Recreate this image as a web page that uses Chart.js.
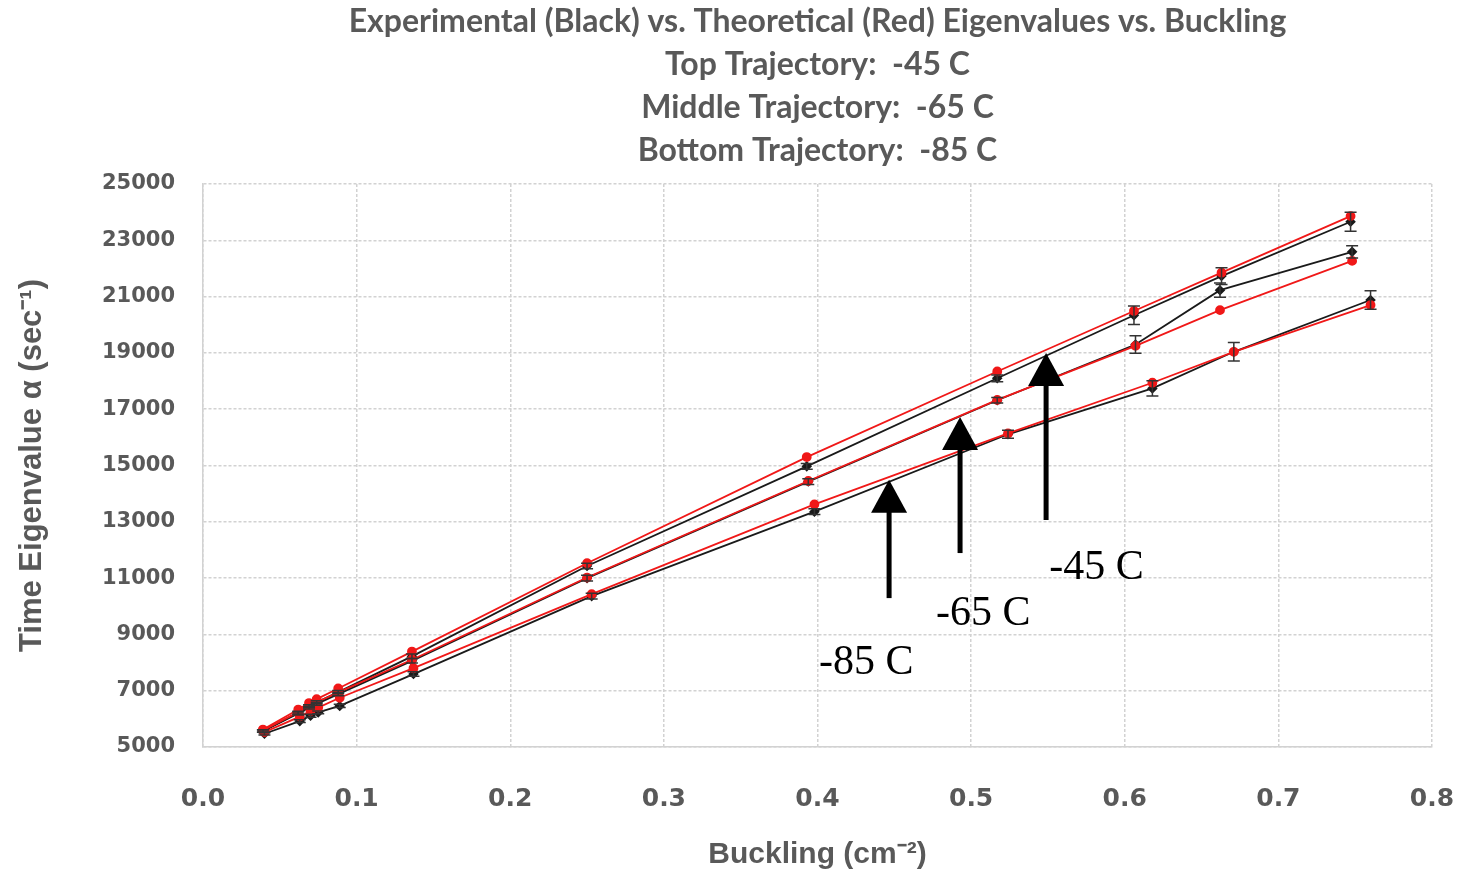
<!DOCTYPE html>
<html>
<head>
<meta charset="utf-8">
<script src="https://cdn.jsdelivr.net/npm/chart.js@4.4.1/dist/chart.umd.min.js"></script>
<style>
  html, body { margin: 0; padding: 0; background: #fff; }
  #wrap { width: 1459px; height: 873px; }
</style>
</head>
<body>
<div id="wrap"><canvas id="myChart"></canvas></div>
<script>
// buckling (cm^-2) for each temperature
var bucklingM45 = [0.039, 0.062, 0.069, 0.074, 0.088, 0.136, 0.250, 0.393, 0.517, 0.606, 0.663, 0.747];
var bucklingM65 = [0.039, 0.062, 0.069, 0.074, 0.088, 0.136, 0.250, 0.394, 0.517, 0.607, 0.662, 0.748];
var bucklingM85 = [0.040, 0.063, 0.070, 0.075, 0.089, 0.137, 0.253, 0.398, 0.524, 0.618, 0.671, 0.760];

// theoretical (red) eigenvalues
var theoryM45 = [5620, 6330, 6560, 6700, 7080, 8390, 11530, 15300, 18340, 20490, 21850, 23860];
var theoryM65 = [5590, 6240, 6460, 6590, 6940, 8100, 11020, 14450, 17330, 19250, 20520, 22270];
var theoryM85 = [5530, 6080, 6280, 6400, 6750, 7800, 10430, 13620, 16140, 17940, 19040, 20700];

// experimental (black) eigenvalues and their error bars
var expM45 = [5570, 6220, 6450, 6590, 6950, 8220, 11430, 14970, 18100, 20340, 21730, 23660];
var expM65 = [5560, 6190, 6400, 6530, 6880, 8060, 11000, 14430, 17320, 19300, 21230, 22590];
var expM85 = [5470, 5920, 6110, 6230, 6460, 7590, 10360, 13360, 16110, 17740, 19040, 20880];
var errM45 = [40, 50, 50, 50, 60, 80, 100, 100, 120, 330, 300, 340];
var errM65 = [40, 50, 50, 50, 60, 80, 100, 100, 100, 310, 250, 220];
var errM85 = [40, 50, 50, 50, 60, 80, 100, 100, 140, 270, 330, 330];

// tick values
var xTicks = [0, 0.1, 0.2, 0.3, 0.4, 0.5, 0.6, 0.7, 0.8];
var yTicks = [5000, 7000, 9000, 11000, 13000, 15000, 17000, 19000, 21000, 23000, 25000];

// arrow annotations (-85, -65, -45)
var arrowLabels = ['-85 C', '-65 C', '-45 C'];
var arrowX = [0.4466, 0.4928, 0.5488];
var arrowTail = [10290, 11890, 13060];
var arrowTip = [14490, 16720, 19000];
var labelX = [0.401, 0.4771, 0.5508];
var labelY = [7593, 9334, 10968];

var titleLines = [
    'Experimental (Black) vs. Theoretical (Red) Eigenvalues vs. Buckling',
    'Top Trajectory:  -45 C',
    'Middle Trajectory:  -65 C',
    'Bottom Trajectory:  -85 C'
];

function pts(xs, ys) {
    return xs.map(function (x, i) { return { x: x, y: ys[i] }; });
}

function redSet(xs, ys) {
    return {
        data: pts(xs, ys),
        borderColor: '#f01818', backgroundColor: '#f01818',
        borderWidth: 1.8, pointStyle: 'circle', pointRadius: 4,
        showLine: true
    };
}

function blackSet(xs, ys, err) {
    return {
        data: pts(xs, ys),
        errors: err,
        borderColor: '#1a1a1a', backgroundColor: '#1a1a1a',
        borderWidth: 1.8, pointStyle: 'rectRot', pointRadius: 4,
        showLine: true
    };
}

var gray = '#595959';
var gridColor = '#d2d2d2';

var extras = {
    id: 'extras',
    afterDatasetsDraw: function (chart) {
        var ctx = chart.ctx;
        var xs = chart.scales.x, ys = chart.scales.y;
        ctx.save();
        // error bars on experimental points
        ctx.strokeStyle = '#333';
        ctx.lineWidth = 1.5;
        chart.data.datasets.forEach(function (ds) {
            if (!ds.errors) return;
            ds.data.forEach(function (p, i) {
                var px = xs.getPixelForValue(p.x);
                var y1 = ys.getPixelForValue(p.y - ds.errors[i]);
                var y2 = ys.getPixelForValue(p.y + ds.errors[i]);
                ctx.beginPath();
                ctx.moveTo(px, y1); ctx.lineTo(px, y2);
                ctx.moveTo(px - 6, y1); ctx.lineTo(px + 6, y1);
                ctx.moveTo(px - 6, y2); ctx.lineTo(px + 6, y2);
                ctx.stroke();
            });
        });
        // arrows and labels
        ctx.fillStyle = '#000';
        ctx.strokeStyle = '#000';
        for (var i = 0; i < arrowX.length; i++) {
            var ax = xs.getPixelForValue(arrowX[i]);
            var tail = ys.getPixelForValue(arrowTail[i]);
            var tip = ys.getPixelForValue(arrowTip[i]);
            ctx.lineWidth = 5;
            ctx.beginPath();
            ctx.moveTo(ax, tail); ctx.lineTo(ax, tip + 30);
            ctx.stroke();
            ctx.beginPath();
            ctx.moveTo(ax, tip);
            ctx.lineTo(ax - 18, tip + 33);
            ctx.lineTo(ax + 18, tip + 33);
            ctx.closePath();
            ctx.fill();
            ctx.font = '42px "Liberation Serif"';
            ctx.textAlign = 'left';
            ctx.textBaseline = 'alphabetic';
            ctx.fillText(arrowLabels[i], xs.getPixelForValue(labelX[i]), ys.getPixelForValue(labelY[i]));
        }
        ctx.restore();
    }
};

var ctx = document.getElementById('myChart').getContext('2d');
var chart = new Chart(ctx, {
    type: 'scatter',
    data: {
        datasets: [
            redSet(bucklingM45, theoryM45),
            redSet(bucklingM65, theoryM65),
            redSet(bucklingM85, theoryM85),
            blackSet(bucklingM45, expM45, errM45),
            blackSet(bucklingM65, expM65, errM65),
            blackSet(bucklingM85, expM85, errM85)
        ]
    },
    options: {
        responsive: true,
        maintainAspectRatio: false,
        animation: false,
        layout: { padding: { top: 0, right: 27, bottom: 0, left: 0 } },
        plugins: {
            legend: { display: false },
            tooltip: { enabled: false },
            title: {
                display: true,
                fullSize: false,
                text: titleLines,
                color: gray,
                font: { family: 'Lato', size: 32, weight: 'bold', lineHeight: 1.344 },
                padding: { top: 0, bottom: 12 }
            }
        },
        scales: {
            x: {
                type: 'linear',
                min: 0, max: 0.8,
                afterBuildTicks: function (s) { s.ticks = xTicks.map(function (v) { return { value: v }; }); },
                afterFit: function (s) { s.height = 126; s.paddingLeft = 0; s.paddingRight = 0; },
                ticks: {
                    padding: 37,
                    color: gray,
                    font: { family: 'DejaVu Sans', size: 25, weight: 'bold' },
                    callback: function (v) { return v.toFixed(1); }
                },
                grid: { color: gridColor, lineWidth: 1.5, drawTicks: false },
                border: { color: gridColor, width: 1.5, dash: [3, 2] },
                title: {
                    display: true,
                    text: 'Buckling (cm⁻²)',
                    color: gray,
                    font: { family: 'Liberation Sans', size: 30, weight: 'bold' },
                    padding: { top: 0, bottom: 0 }
                }
            },
            y: {
                type: 'linear',
                min: 5000, max: 25000,
                afterBuildTicks: function (s) { s.ticks = yTicks.map(function (v) { return { value: v }; }); },
                afterFit: function (s) { s.width = 203; },
                ticks: {
                    padding: 28,
                    color: gray,
                    font: { family: 'DejaVu Sans', size: 21, weight: 'bold' },
                    callback: function (v) { return String(v); }
                },
                grid: { color: gridColor, lineWidth: 1.5, drawTicks: false },
                border: { color: gridColor, width: 1.5, dash: [3, 2] },
                title: {
                    display: true,
                    text: 'Time Eigenvalue α (sec⁻¹)',
                    color: gray,
                    font: { family: 'Liberation Sans', size: 31, weight: 'bold' },
                    padding: { top: 14, bottom: 0 }
                }
            }
        }
    },
    plugins: [extras]
});
</script>
</body>
</html>
